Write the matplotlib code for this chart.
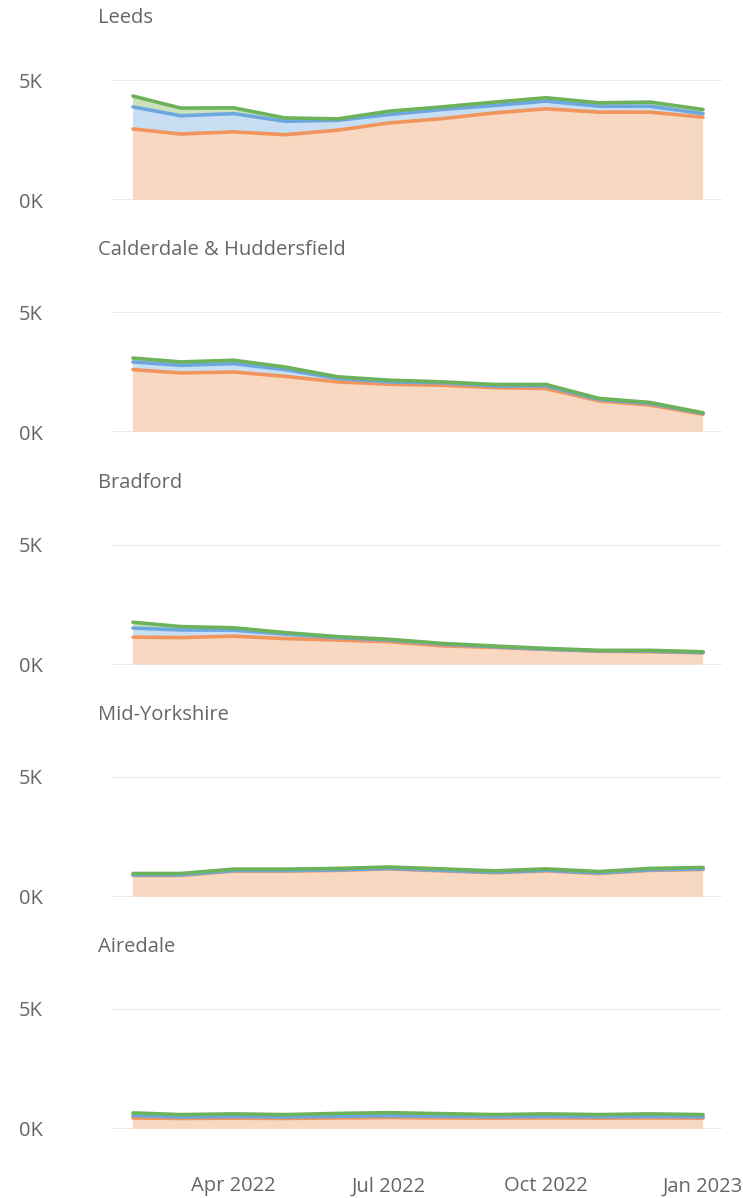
import matplotlib
matplotlib.use("Agg")
import matplotlib.pyplot as plt
import pandas as pd

# monthly points, Feb 2022 .. Jan 2023
months = pd.date_range("2022-02-01", periods=12, freq="MS")
regions = ["Leeds", "Calderdale & Huddersfield", "Bradford", "Mid-Yorkshire", "Airedale"]

# three stacked series per region (bottom orange, middle blue, top green)
orange = {
    "Leeds": [2960, 2750, 2840, 2720, 2910, 3210, 3390, 3630, 3800, 3660, 3660, 3450],
    "Calderdale & Huddersfield": [2610, 2470, 2510, 2330, 2100, 2000, 1960, 1860, 1820, 1310, 1130, 750],
    "Bradford": [1140, 1120, 1180, 1080, 1020, 950, 780, 710, 630, 550, 530, 490],
    "Mid-Yorkshire": [890, 890, 1070, 1070, 1100, 1160, 1080, 1000, 1080, 970, 1100, 1140],
    "Airedale": [460, 440, 450, 440, 460, 480, 460, 450, 460, 450, 460, 450],
}
blue = {
    "Leeds": [920, 760, 760, 560, 410, 350, 380, 310, 320, 250, 250, 150],
    "Calderdale & Huddersfield": [320, 320, 350, 280, 140, 100, 100, 70, 110, 60, 70, 40],
    "Bradford": [380, 320, 250, 190, 100, 70, 70, 30, 10, 20, 30, 10],
    "Mid-Yorkshire": [20, 20, 20, 20, 20, 20, 20, 20, 20, 20, 20, 20],
    "Airedale": [100, 60, 70, 60, 70, 70, 70, 60, 60, 60, 60, 60],
}
green = {
    "Leeds": [450, 320, 240, 140, 60, 140, 110, 140, 140, 140, 170, 170],
    "Calderdale & Huddersfield": [160, 140, 140, 110, 70, 70, 40, 60, 60, 40, 40, 20],
    "Bradford": [240, 140, 100, 60, 40, 30, 30, 30, 30, 20, 30, 30],
    "Mid-Yorkshire": [60, 60, 60, 60, 60, 60, 60, 60, 60, 60, 60, 60],
    "Airedale": [110, 100, 110, 100, 120, 130, 110, 90, 110, 90, 110, 90],
}

x_ticks = pd.to_datetime(["2022-04-01", "2022-07-01", "2022-10-01", "2023-01-01"])
x_tick_labels = ["Apr 2022", "Jul 2022", "Oct 2022", "Jan 2023"]

line_cols = ["#F2955C", "#6CA7E0", "#6CB25A"]
fill_cols = ["#F8D8C1", "#C8DEF2", "#CBE3BD"]
text_col = "#666666"
grid_col = "#E8E8E8"
font = ["Open Sans", "DejaVu Sans"]
fs = 14.5

W, H = 743, 1198
fig = plt.figure(figsize=(W / 100, H / 100), dpi=100)

for i, name in enumerate(regions):
    zero_px = 200 + i * 232.25
    ax = fig.add_axes([112 / W, 1 - zero_px / H, 610 / W, 120 / H])

    o, b, g = orange[name], blue[name], green[name]
    ax.stackplot(months, o, b, g, colors=fill_cols, linewidth=0)
    tops_b = [a + c for a, c in zip(o, b)]
    tops_g = [a + c for a, c in zip(tops_b, g)]
    for ys, col in zip([o, tops_b, tops_g], line_cols):
        ax.plot(months, ys, color=col, lw=2.6, solid_capstyle="round",
                solid_joinstyle="round")

    ax.set_xlim(months[0] - pd.Timedelta(days=12.3),
                pd.Timestamp("2023-01-01") + pd.Timedelta(days=11.1))
    ax.set_ylim(0, 5000)
    ax.set_yticks([0, 5000])
    ax.set_yticklabels(["0K", "5K"], family=font, fontsize=fs, color=text_col)
    ax.yaxis.grid(True, color=grid_col, lw=1.2)
    ax.set_axisbelow(True)
    for s in ax.spines.values():
        s.set_visible(False)
    ax.tick_params(axis="y", length=0, pad=50)
    ax.tick_params(axis="x", length=0, pad=34)
    ax.set_xticks(x_ticks)
    if i == len(regions) - 1:
        ax.set_xticklabels(x_tick_labels, family=font, fontsize=fs, color=text_col)
    else:
        ax.set_xticklabels([])

    fig.text(98 / W, 1 - (zero_px - 182) / H, name, family=font, fontsize=fs,
             color=text_col, va="center", ha="left")

fig.savefig("out.png", dpi=100)
